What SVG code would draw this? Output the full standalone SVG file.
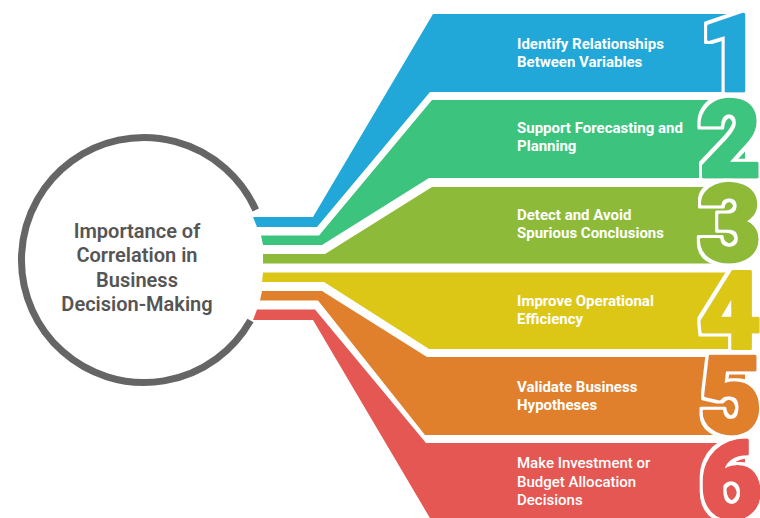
<svg xmlns="http://www.w3.org/2000/svg" width="760" height="518" viewBox="0 0 760 518">
  <defs>
    <!-- white outline around the big step numbers -->
    <filter id="halo" x="-20%" y="-20%" width="140%" height="140%">
      <feMorphology in="SourceAlpha" operator="dilate" radius="3" result="grown"/>
      <feFlood flood-color="#ffffff"/>
      <feComposite in2="grown" operator="in" result="outline"/>
      <feMerge>
        <feMergeNode in="outline"/>
        <feMergeNode in="SourceGraphic"/>
      </feMerge>
    </filter>
  </defs>
  <style>
    .lbl { font-family: Roboto, "Liberation Sans", sans-serif; font-size: 15px; font-weight: 700; fill: #ffffff; }
    .lbl.light { font-weight: 500; }
    .num { font-family: Roboto, "Liberation Sans", sans-serif; font-size: 108px; font-weight: 900; text-anchor: middle; stroke-width: 3; stroke-linejoin: round; filter: url(#halo); }
    .hub { font-family: Roboto, "Liberation Sans", sans-serif; font-size: 20px; font-weight: 600; fill: #555555; text-anchor: middle; }
  </style>
  <rect width="760" height="518" fill="#ffffff"/>

  <!-- central hub: open ring with title -->
  <g id="hub">
    <path d="M 255.8 210 A 122.5 122.5 0 1 0 250.5 320.5" fill="none" stroke="#656565" stroke-width="7"/>
    <text class="hub" x="137" y="238">Importance of</text>
    <text class="hub" x="137" y="262">Correlation in</text>
    <text class="hub" x="137" y="287">Business</text>
    <text class="hub" x="137" y="311">Decision-Making</text>
  </g>

  <!-- ribbons fanning out from the hub to each item -->
  <g id="connectors">
    <polygon fill="#21A8D8" points="253,217 313,217 433,14 745,14 745,92 430,92 317,227 257,227"/>
    <polygon fill="#3CC47E" points="261,235.5 319,235.5 432,100 745,100 745,178 429,178 322,245 263,245"/>
    <polygon fill="#8EBA39" points="263,254 325,254 432,187 745,187 745,263.5 263,263.5"/>
    <polygon fill="#DDC716" points="263,272.5 745,272.5 745,349 429,349 324,282 262,282"/>
    <polygon fill="#E0802C" points="262,291 322,291 427,357 745,357 745,435 425,435 318,300.5 260,300.5"/>
    <polygon fill="#E55753" points="257,309.5 315,309.5 426,443 745,443 745,530 437,530 313,320 253,320"/>
  </g>

  <g id="item1">
    <text class="num" x="731" y="91" fill="#21A8D8" stroke="#21A8D8">1</text>
    <text class="lbl" x="517" y="49">Identify Relationships</text>
    <text class="lbl" x="517" y="67">Between Variables</text>
  </g>
  <g id="item2">
    <text class="num" x="730" y="177" fill="#3CC47E" stroke="#3CC47E">2</text>
    <text class="lbl" x="517" y="133">Support Forecasting and</text>
    <text class="lbl" x="517" y="151">Planning</text>
  </g>
  <g id="item3">
    <text class="num" x="730" y="261" fill="#8EBA39" stroke="#8EBA39">3</text>
    <text class="lbl" x="517" y="220">Detect and Avoid</text>
    <text class="lbl" x="517" y="238">Spurious Conclusions</text>
  </g>
  <g id="item4">
    <text class="num" x="730" y="348" fill="#DDC716" stroke="#DDC716">4</text>
    <text class="lbl" x="517" y="306">Improve Operational</text>
    <text class="lbl" x="517" y="324">Efficiency</text>
  </g>
  <g id="item5">
    <text class="num" x="731" y="433" fill="#E0802C" stroke="#E0802C">5</text>
    <text class="lbl" x="517" y="392">Validate Business</text>
    <text class="lbl" x="517" y="410">Hypotheses</text>
  </g>
  <g id="item6">
    <text class="num" x="731" y="518" fill="#E55753" stroke="#E55753">6</text>
    <text class="lbl light" x="517" y="468">Make Investment or</text>
    <text class="lbl light" x="517" y="487">Budget Allocation</text>
    <text class="lbl light" x="517" y="505">Decisions</text>
  </g>
</svg>
